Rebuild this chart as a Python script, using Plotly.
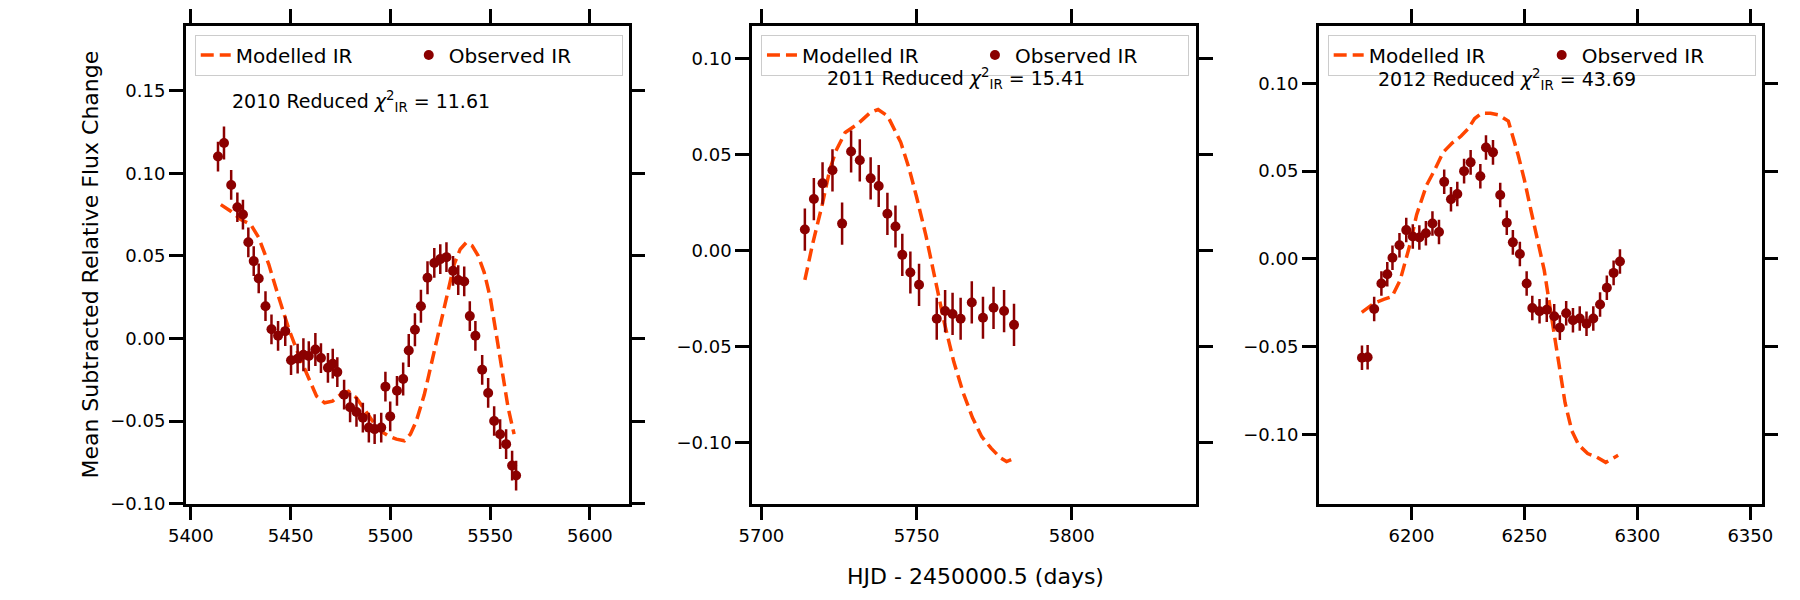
import plotly.graph_objects as go

# 2010 season
obs10_x = [5413.6, 5416.6, 5420.2, 5423.3, 5426.1, 5428.8, 5431.5, 5434.0, 5437.4, 5440.4,
           5443.7, 5447.3, 5450.2, 5453.5, 5456.4, 5459.1, 5462.4, 5465.2, 5468.7, 5471.1,
           5473.4, 5476.8, 5479.8, 5483.0, 5486.2, 5489.2, 5492.1, 5495.4, 5497.5, 5499.9,
           5503.3, 5506.4, 5509.2, 5512.3, 5515.3, 5518.6, 5522.0, 5525.0, 5528.1, 5531.4,
           5534.0, 5537.0, 5539.8, 5542.6, 5546.0, 5549.0, 5552.0, 5555.0, 5558.0, 5561.0,
           5563.0]
obs10_y = [0.1101, 0.1183, 0.0929, 0.0794, 0.0750, 0.0582, 0.0468, 0.0363, 0.0195, 0.0055,
           0.0016, 0.0044, -0.0132, -0.0123, -0.0099, -0.0107, -0.0067, -0.0119, -0.0178, -0.0153,
           -0.0204, -0.0341, -0.0417, -0.0445, -0.0480, -0.0540, -0.0549, -0.0540, -0.0292, -0.0472,
           -0.0317, -0.0246, -0.0073, 0.0052, 0.0195, 0.0367, 0.0457, 0.0480, 0.0492, 0.0409,
           0.0353, 0.0345, 0.0135, 0.0016, -0.0190, -0.0330, -0.0500, -0.0580, -0.0640, -0.0770,
           -0.0830]
obs10_err = [0.009, 0.010, 0.009, 0.009, 0.009, 0.009, 0.009, 0.009, 0.009, 0.009,
             0.009, 0.009, 0.009, 0.009, 0.010, 0.009, 0.010, 0.009, 0.009, 0.009,
             0.009, 0.009, 0.009, 0.009, 0.009, 0.009, 0.009, 0.009, 0.009, 0.009,
             0.009, 0.010, 0.010, 0.010, 0.010, 0.010, 0.009, 0.009, 0.009, 0.009,
             0.009, 0.009, 0.009, 0.009, 0.009, 0.009, 0.009, 0.009, 0.009, 0.009,
             0.009]
mod10_x = [5415, 5420, 5425, 5430, 5434, 5439, 5444, 5449, 5454, 5459, 5463, 5467, 5471,
           5475, 5479, 5483, 5487, 5491, 5495, 5499, 5503, 5507, 5510, 5513, 5517, 5520,
           5524, 5528, 5532, 5535, 5538, 5541, 5544, 5547, 5550, 5553, 5556, 5559, 5562]
mod10_y = [0.081, 0.077, 0.072, 0.069, 0.061, 0.045, 0.025, 0.006, -0.010, -0.024, -0.035,
           -0.039, -0.038, -0.034, -0.032, -0.036, -0.043, -0.050, -0.056, -0.059, -0.061,
           -0.062, -0.058, -0.050, -0.034, -0.018, 0.003, 0.026, 0.045, 0.054, 0.058, 0.056,
           0.050, 0.040, 0.025, 0.003, -0.020, -0.042, -0.058]

# 2011 season
obs11_x = [5714.0, 5716.9, 5719.7, 5722.9, 5726.0, 5728.9, 5731.7, 5735.2, 5737.8, 5740.6,
           5743.2, 5745.4, 5748.0, 5750.8, 5756.5, 5759.2, 5761.6, 5764.2, 5767.8, 5771.4,
           5774.8, 5778.2, 5781.4]
obs11_y = [0.0110, 0.0269, 0.0351, 0.0419, 0.0141, 0.0517, 0.0471, 0.0377, 0.0337, 0.0192,
           0.0126, -0.0022, -0.0114, -0.0178, -0.0355, -0.0315, -0.0330, -0.0355, -0.0270, -0.0350,
           -0.0298, -0.0315, -0.0387]
obs11_err = [0.011] * len(obs11_x)
mod11_x = [5714, 5716.5, 5719.6, 5722, 5724, 5727, 5731, 5735, 5737.6, 5740.7, 5744.9, 5747.6,
           5750, 5753, 5756, 5759, 5762, 5765, 5768, 5771, 5774, 5777, 5779, 5780.5]
mod11_y = [-0.0153, 0.0035, 0.024, 0.042, 0.052, 0.0616, 0.066, 0.0719, 0.0736, 0.0702, 0.0565,
           0.0428, 0.028, 0.008, -0.015, -0.038, -0.058, -0.074, -0.087, -0.097, -0.103, -0.108,
           -0.110, -0.109]

# 2012 season
obs12_x = [6178.1, 6180.6, 6183.5, 6186.7, 6189.3, 6191.6, 6194.7, 6197.7, 6200.6, 6203.5,
           6206.4, 6209.3, 6212.2, 6214.5, 6217.5, 6220.3, 6223.3, 6226.2, 6230.5, 6233.0,
           6236.1, 6239.3, 6242.2, 6244.9, 6248.0, 6251.0, 6253.5, 6256.7, 6259.9, 6263.2,
           6265.7, 6268.5, 6271.5, 6274.5, 6277.5, 6280.5, 6283.5, 6286.5, 6289.5, 6292.3]
obs12_y = [-0.0564, -0.0561, -0.0286, -0.0140, -0.0088, 0.0006, 0.0078, 0.0164, 0.0127, 0.0122,
           0.0146, 0.0202, 0.0153, 0.0439, 0.0340, 0.0370, 0.0500, 0.0550, 0.0471, 0.0635,
           0.0607, 0.0364, 0.0206, 0.0094, 0.0028, -0.0140, -0.0280, -0.0299, -0.0290, -0.0327,
           -0.0392, -0.0310, -0.0350, -0.0340, -0.0370, -0.0340, -0.0260, -0.0165, -0.0080, -0.0015]
obs12_err = [0.007] * len(obs12_x)
mod12_x = [6178, 6183.5, 6188, 6191.4, 6195, 6199.4, 6202.3, 6206.7, 6210, 6214, 6218, 6222,
           6225, 6228, 6231, 6235, 6238.6, 6242.9, 6247.3, 6250, 6253, 6256, 6258.8, 6262,
           6265.3, 6268, 6271, 6274, 6278, 6282, 6286, 6289, 6291.5]
mod12_y = [-0.0305, -0.0252, -0.023, -0.0215, -0.0122, 0.0084, 0.0252, 0.042, 0.050, 0.0607,
           0.066, 0.070, 0.074, 0.080, 0.083, 0.083, 0.082, 0.0785, 0.0589, 0.045, 0.0271, 0.010,
           -0.0066, -0.033, -0.0607, -0.082, -0.098, -0.106, -0.111, -0.113, -0.116, -0.114, -0.112]

seasons = ["2010", "2011", "2012"]
chi2 = ["11.61", "15.41", "43.69"]
x_ranges = [[5397.5, 5619.4], [5697, 5840], [6159, 6355]]
y_ranges = [[-0.10, 0.1893], [-0.1319, 0.1173], [-0.1395, 0.1329]]

W, H = 1800, 600
x_doms = [[162.5 / W, 612.5 / W], [738 / W, 1189 / W], [1314 / W, 1764 / W]]
y_dom = [1 - 504 / H, 1 - 18 / H]
txt_x = [0.099, 0.164, 0.129]
txt_y = [95, 72, 73]

MOD_COLOR = "#FF4500"
OBS_COLOR = "#8B0000"
FONT = "DejaVu Sans"

fig = go.Figure()

data = [(obs10_x, obs10_y, obs10_err, mod10_x, mod10_y),
        (obs11_x, obs11_y, obs11_err, mod11_x, mod11_y),
        (obs12_x, obs12_y, obs12_err, mod12_x, mod12_y)]

for i, (ox, oy, oe, mx, my) in enumerate(data):
    sfx = "" if i == 0 else str(i + 1)
    leg = "legend" + sfx
    # model curve
    fig.add_trace(go.Scatter(
        x=mx, y=my, mode="lines", name="Modelled IR",
        line=dict(color=MOD_COLOR, width=3.5, dash="13px,6px"),
        xaxis="x" + sfx, yaxis="y" + sfx, legend=leg
    ))
    # observed points
    fig.add_trace(go.Scatter(
        x=ox, y=oy, mode="markers", name="Observed IR",
        marker=dict(color=OBS_COLOR, size=10),
        error_y=dict(type="data", array=oe, color=OBS_COLOR, thickness=2.5, width=0),
        xaxis="x" + sfx, yaxis="y" + sfx, legend=leg
    ))

axis_style = dict(
    showline=True, linecolor="black", linewidth=2.7, mirror="allticks",
    ticks="outside", ticklen=14, tickwidth=2.5, tickcolor="black",
    showgrid=False, zeroline=False,
    tickfont=dict(family=FONT, size=18, color="black"),
)

layout = dict(
    width=W, height=H,
    margin=dict(l=0, r=0, t=0, b=0),
    plot_bgcolor="white", paper_bgcolor="white",
    font=dict(family=FONT, size=18, color="black"),
    showlegend=True,
)

annotations = []
for i in range(3):
    sfx = "" if i == 0 else str(i + 1)
    layout["xaxis" + sfx] = dict(axis_style, domain=x_doms[i], range=x_ranges[i],
                                 anchor="y" + sfx, dtick=50, tick0=0, tickformat="d")
    layout["yaxis" + sfx] = dict(axis_style, domain=y_dom, range=y_ranges[i],
                                 anchor="x" + sfx, dtick=0.05, tick0=0, tickformat=".2f")
    layout["legend" + sfx] = dict(
        x=x_doms[i][0] + 9 / W, y=1 - 27 / H, xanchor="left", yanchor="top",
        orientation="h", bordercolor="#cccccc", borderwidth=1,
        bgcolor="rgba(255,255,255,0.8)", font=dict(family=FONT, size=20),
        entrywidth=168, entrywidthmode="pixels",
    )
    annotations.append(dict(
        text=f"{seasons[i]} Reduced <i>χ</i><sup>2</sup><sub>IR</sub> = {chi2[i]}",
        xref=("x" + sfx) + " domain", yref="paper",
        x=txt_x[i], y=1 - txt_y[i] / H, xanchor="left", yanchor="middle",
        showarrow=False, font=dict(family=FONT, size=19, color="black"),
    ))

# axis titles
annotations.append(dict(
    text="Mean Subtracted Relative Flux Change", xref="paper", yref="paper",
    x=66 / W, y=1 - 261 / H, textangle=-90, showarrow=False,
    xanchor="center", yanchor="middle", font=dict(family=FONT, size=22, color="black"),
))
annotations.append(dict(
    text="HJD - 2450000.5 (days)", xref="paper", yref="paper",
    x=965 / W, y=1 - 578 / H, showarrow=False,
    xanchor="center", yanchor="middle", font=dict(family=FONT, size=22, color="black"),
))
layout["annotations"] = annotations

fig.update_layout(**layout)

fig.write_html("out.html")
